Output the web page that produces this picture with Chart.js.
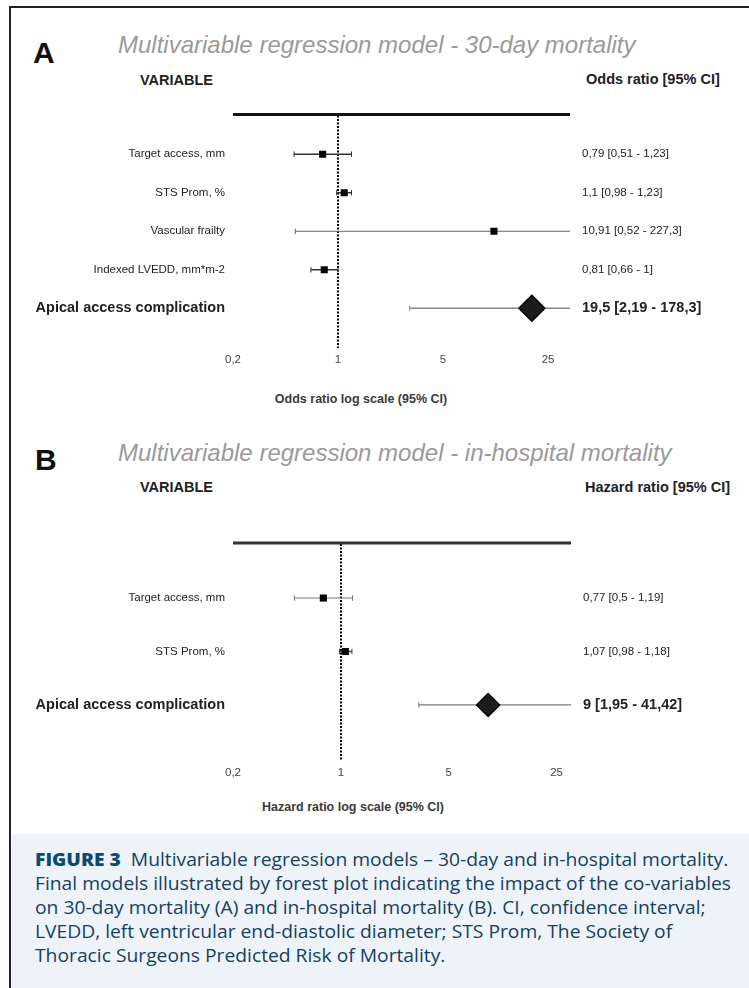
<!DOCTYPE html>
<html>
<head>
<meta charset="utf-8">
<script src="https://cdn.jsdelivr.net/npm/chart.js@4.4.1/dist/chart.umd.min.js"></script>
<style>
  body { margin: 0; width: 749px; height: 988px; background: #fff; position: relative; overflow: hidden; font-family: "Liberation Sans", Arial, sans-serif; }
  .frame { position: absolute; left: 9px; top: 6px; width: 800px; height: 1000px; border-left: 2px solid #222; border-top: 2px solid #222; }
  .letter { position: absolute; font-weight: bold; font-size: 30px; line-height: 1; color: #111; }
  .title { position: absolute; left: 118px; font-style: italic; font-size: 24px; line-height: 1; color: #9a9a9a; white-space: nowrap; }
  .head { position: absolute; font-weight: bold; font-size: 14.5px; line-height: 1; color: #222; white-space: nowrap; }
  .axt { position: absolute; font-weight: bold; font-size: 12.5px; line-height: 1; color: #3a3a3a; white-space: nowrap; transform: translateX(-50%); }
  canvas { position: absolute; left: 0; }
  .caption { position: absolute; left: 12px; top: 834px; right: 0; bottom: 0; background: #eef3f9; }
  .caption p { margin: 0; position: absolute; left: 23px; top: 13px; font-family: "Open Sans", sans-serif; font-size: 18px; font-weight: 500; line-height: 24px; color: #173f60; white-space: nowrap; transform: scaleX(1.07); transform-origin: 0 0; }
  .caption b { color: #0f4a6e; font-weight: 800; }
</style>
</head>
<body>
<div class="frame"></div>

<div class="letter" style="left:33px; top:38px;">A</div>
<div class="title" style="top:33px;">Multivariable regression model - 30-day mortality</div>
<div class="head" style="left:140px; top:73px;">VARIABLE</div>
<div class="head" style="left:586px; top:72px;">Odds ratio [95% CI]</div>
<canvas id="chartA" width="749" height="280" style="top:100px;"></canvas>
<div class="axt" style="left:361px; top:393px;">Odds ratio log scale (95% CI)</div>

<div class="letter" style="left:35px; top:445px;">B</div>
<div class="title" style="top:441px;">Multivariable regression model - in-hospital mortality</div>
<div class="head" style="left:140px; top:480px;">VARIABLE</div>
<div class="head" style="left:585px; top:480px;">Hazard ratio [95% CI]</div>
<canvas id="chartB" width="749" height="262" style="top:530px;"></canvas>
<div class="axt" style="left:353px; top:801px;">Hazard ratio log scale (95% CI)</div>

<div class="caption">
  <p><b>FIGURE 3</b>&nbsp; Multivariable regression models – 30-day and in-hospital mortality.<br>
  Final models illustrated by forest plot indicating the impact of the co-variables<br>
  on 30-day mortality (A) and in-hospital mortality (B). CI, confidence interval;<br>
  LVEDD, left ventricular end-diastolic diameter; STS Prom, The Society of<br>
  Thoracic Surgeons Predicted Risk of Mortality.</p>
</div>

<script>
// Panel A - 30-day mortality (odds ratios)
const labelsA = ['Target access, mm', 'STS Prom, %', 'Vascular frailty', 'Indexed LVEDD, mm*m-2', 'Apical access complication'];
const estA = [0.79, 1.1, 10.91, 0.81, 19.5];
const lowA = [0.51, 0.98, 0.52, 0.66, 3.0];   // apical whisker is drawn from ~3 in the figure
const highA = [1.23, 1.23, 227.3, 1, 178.3];
const ciTextA = ['0,79 [0,51 - 1,23]', '1,1 [0,98 - 1,23]', '10,91 [0,52 - 227,3]', '0,81 [0,66 - 1]', '19,5 [2,19 - 178,3]'];

// Panel B - in-hospital mortality (hazard ratios)
const labelsB = ['Target access, mm', 'STS Prom, %', 'Apical access complication'];
const estB = [0.77, 1.07, 9];
const lowB = [0.5, 0.98, 3.2];                // apical whisker is drawn from ~3.2 in the figure
const highB = [1.19, 1.18, 41.42];
const ciTextB = ['0,77 [0,5 - 1,19]', '1,07 [0,98 - 1,18]', '9 [1,95 - 41,42]'];

const xTicks = [0.2, 1, 5, 25];
const refLine = 1;

// top rule + dotted line of no effect
const forestLines = {
    id: 'forestLines',
    beforeDatasetsDraw(chart, args, opts) {
        const { ctx, chartArea: a, scales: { x } } = chart;
        ctx.save();
        ctx.strokeStyle = opts.topColor;
        ctx.lineWidth = 3;
        ctx.beginPath();
        ctx.moveTo(a.left, a.top);
        ctx.lineTo(a.right, a.top);
        ctx.stroke();
        const px = Math.round(x.getPixelForValue(opts.ref));
        ctx.strokeStyle = '#000';
        ctx.lineWidth = 2;
        ctx.setLineDash([2, 1.5]);
        ctx.beginPath();
        ctx.moveTo(px, a.top + 1);
        ctx.lineTo(px, a.bottom);
        ctx.stroke();
        ctx.restore();
    }
};

// no extra label padding, the plot box is set by the fixed sizes
function noPad(s) {
    s.paddingTop = 0;
    s.paddingBottom = 0;
    s.paddingLeft = 0;
    s.paddingRight = 0;
}

function makeForest(id, o) {
    const big = o.labels.length - 1;
    const datasets = [{
        type: 'scatter',
        data: o.est.map((v, i) => ({ x: v, y: i })),
        pointStyle: o.est.map((v, i) => i === big ? 'rectRot' : 'rect'),
        pointRadius: o.est.map((v, i) => i === big ? o.diamond : 5),
        backgroundColor: o.est.map((v, i) => i === big ? '#1c1c1c' : '#000'),
        borderColor: '#000',
        borderWidth: o.est.map((v, i) => i === big ? 1.5 : 0),
        order: 0
    }];
    o.est.forEach((v, i) => {
        datasets.push({
            type: 'line',
            data: [{ x: o.low[i], y: i }, { x: o.high[i], y: i }],
            borderColor: o.lineColor[i],
            borderWidth: o.lineWidth[i],
            pointStyle: 'line',
            pointRotation: 90,
            pointRadius: 2.7,
            pointBorderColor: o.lineColor[i],
            pointBorderWidth: 1,
            fill: false,
            order: 1
        });
    });

    const rowTicks = (s) => { s.ticks = o.labels.map((l, i) => ({ value: i })); };
    const rowFont = (c) => c.index === big
        ? { family: 'Liberation Sans', size: 14.5, weight: 'bold' }
        : { family: 'Liberation Sans', size: 11.5 };

    new Chart(document.getElementById(id), {
        type: 'scatter',
        data: { datasets },
        options: {
            responsive: false,
            animation: false,
            events: [],
            layout: { padding: { top: o.padTop, left: 0, right: 0, bottom: 0 } },
            plugins: {
                legend: { display: false },
                tooltip: { enabled: false },
                forestLines: { ref: refLine, topColor: o.topColor }
            },
            scales: {
                x: {
                    type: 'logarithmic',
                    min: 0.2,
                    max: o.xMax,
                    grid: { display: false, drawTicks: false },
                    border: { display: false },
                    afterBuildTicks: (s) => { s.ticks = xTicks.map(v => ({ value: v })); },
                    afterFit: (s) => { s.height = 32; noPad(s); },
                    ticks: {
                        autoSkip: false,
                        maxRotation: 0,
                        padding: o.tickPad,
                        color: '#444',
                        font: { family: 'Liberation Sans', size: 11.5 },
                        callback: (v) => String(v).replace('.', ',')
                    }
                },
                y: {
                    type: 'linear',
                    position: 'left',
                    reverse: true,
                    min: -1.03,
                    max: o.labels.length - 1 + 1.03,
                    grid: { display: false, drawTicks: false },
                    border: { display: false },
                    afterBuildTicks: rowTicks,
                    afterFit: (s) => { s.width = 233; noPad(s); },
                    ticks: {
                        autoSkip: false,
                        padding: 8,
                        color: '#222',
                        font: rowFont,
                        callback: (v) => o.labels[v]
                    }
                },
                y2: {
                    type: 'linear',
                    position: 'right',
                    reverse: true,
                    min: -1.03,
                    max: o.labels.length - 1 + 1.03,
                    grid: { display: false, drawTicks: false },
                    border: { display: false },
                    afterBuildTicks: rowTicks,
                    afterFit: (s) => { s.width = 749 - o.right; noPad(s); },
                    ticks: {
                        autoSkip: false,
                        padding: 12,
                        color: '#222',
                        font: rowFont,
                        callback: (v) => o.ci[v]
                    }
                }
            }
        },
        plugins: [forestLines]
    });
}

makeForest('chartA', {
    labels: labelsA, est: estA, low: lowA, high: highA, ci: ciTextA,
    xMax: 35, right: 570, padTop: 12, tickPad: 5, diamond: 13, topColor: '#111',
    lineColor: ['#333', '#333', '#666', '#333', '#888'],
    lineWidth: [1.5, 1.5, 1, 1.5, 1.5]
});

makeForest('chartB', {
    labels: labelsB, est: estB, low: lowB, high: highB, ci: ciTextB,
    xMax: 31, right: 571, padTop: 11, tickPad: 6, diamond: 11.5, topColor: '#333',
    lineColor: ['#777', '#444', '#777'],
    lineWidth: [1, 1.5, 1.2]
});
</script>
</body>
</html>
